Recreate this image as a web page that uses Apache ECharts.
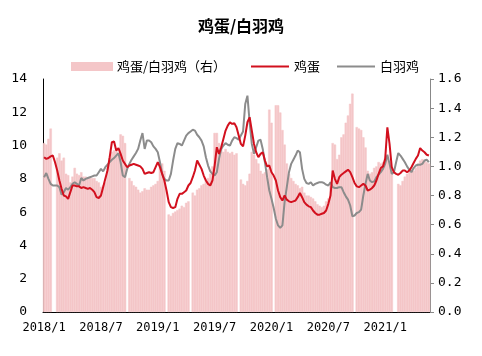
<!DOCTYPE html>
<html><head><meta charset="utf-8">
<script src="https://cdn.jsdelivr.net/npm/echarts@6/dist/echarts.min.js"></script>
<style>html,body{margin:0;padding:0;background:#fff}#c{width:482px;height:356px}</style>
</head><body><div id="c"></div>
<script>
const startDate = '2018-01-05';
const egg = [
9.3,9.2,9.25,9.35,9.4,9.0,8.5,7.9,7.4,7.0,
6.95,6.8,7.2,7.6,7.6,7.55,7.55,7.45,7.5,7.45,
7.4,7.45,7.35,7.2,6.9,6.85,7.0,7.5,8.0,8.5,
9.3,10.2,10.25,9.7,9.85,9.5,9.1,8.9,8.7,8.8,
8.85,8.9,8.85,8.8,8.75,8.6,8.3,8.35,8.4,8.35,
8.4,8.7,9.0,8.7,8.3,7.9,7.3,6.6,6.3,6.25,
6.3,6.8,7.1,7.1,7.2,7.3,7.6,7.75,8.1,8.5,
9.1,8.85,8.6,8.2,7.9,7.7,7.6,7.9,8.8,9.9,
9.5,9.9,10.4,10.9,11.2,11.4,11.3,11.35,11.1,10.6,
10.1,9.95,10.6,11.4,11.7,10.9,10.1,9.6,9.3,9.5,
9.6,9.1,8.75,8.8,8.4,8.2,7.9,7.3,6.9,6.7,
7.0,6.75,6.65,6.6,6.65,6.7,6.9,7.15,6.9,6.6,
6.45,6.35,6.3,6.1,5.95,5.85,5.85,5.9,5.95,6.1,
6.5,7.0,8.5,8.0,7.7,8.1,8.25,8.35,8.45,8.55,
8.4,8.1,7.75,7.55,7.5,7.6,7.7,7.6,7.3,7.35,
7.45,7.6,7.9,8.3,8.65,8.75,9.2,11.1,10.1,8.7,
8.4,8.3,8.25,8.35,8.5,8.5,8.4,8.5,8.7,8.95,
9.2,9.4,9.85,9.7,9.6,9.45,9.4];
const chick = [
8.1,8.35,8.0,7.7,7.6,7.6,7.6,7.5,7.05,7.2,
7.45,7.35,7.5,7.7,7.8,7.7,7.6,8.05,7.9,8.0,
8.05,8.1,8.15,8.2,8.2,8.4,8.6,8.45,8.7,8.85,
9.0,9.15,9.25,9.4,9.55,9.0,8.2,8.1,8.6,8.9,
9.15,9.35,9.55,9.8,10.3,10.75,9.8,10.3,10.3,10.2,
9.95,9.8,9.6,9.0,8.3,8.0,7.9,7.9,8.3,9.1,
9.8,10.15,10.1,10.0,10.3,10.6,10.75,10.85,10.95,10.9,
10.65,10.5,10.3,9.95,9.3,8.8,8.45,8.3,8.2,8.4,
9.2,9.8,10.0,10.15,10.05,10.0,10.3,10.5,10.45,10.35,
10.6,10.85,12.5,13.0,11.4,10.1,9.5,9.9,10.3,10.35,
9.8,9.0,8.1,7.3,6.8,6.25,5.6,5.2,5.05,5.2,
6.6,7.5,8.4,8.9,9.15,9.4,9.7,9.6,8.6,8.0,
7.75,7.7,7.8,7.6,7.7,7.75,7.8,7.8,7.75,7.65,
7.6,7.8,7.5,7.45,7.45,7.5,7.5,7.2,6.95,6.75,
6.4,5.75,5.8,5.95,6.0,6.15,7.0,7.7,8.3,7.9,
7.8,7.85,8.1,8.25,8.4,8.6,8.9,9.45,8.9,8.3,
8.4,9.0,9.55,9.4,9.2,9.0,8.75,8.55,8.4,8.65,
8.8,8.85,8.85,8.9,9.1,9.15,9.0];
const ratio = [
1.16,1.15,1.19,1.26,null,null,1.06,1.09,1.04,1.06,
0.95,0.94,0.89,0.93,0.99,0.95,0.94,0.96,0.93,0.93,
0.92,0.92,0.92,0.92,0.9,0.89,0.86,0.87,0.89,0.99,
1.06,1.1,1.11,1.11,1.08,1.22,1.21,1.16,null,0.92,
0.9,0.87,0.86,0.84,0.82,0.83,0.85,0.84,0.84,0.86,
0.87,0.88,0.9,1.0,1.02,0.97,null,0.67,0.66,0.68,
0.69,0.7,0.71,0.73,0.72,0.75,0.76,null,0.82,0.8,
0.84,0.85,0.87,0.88,0.9,0.92,0.95,1.0,1.23,1.23,
1.16,1.13,1.1,1.12,1.1,1.09,1.1,1.08,1.09,null,
0.91,0.88,0.87,0.9,0.95,1.1,1.08,1.05,1.02,0.97,
0.95,0.96,0.98,1.39,1.3,null,1.42,1.42,1.37,1.25,
1.15,1.02,0.95,0.92,0.9,0.88,0.87,0.85,0.86,0.82,
0.8,0.8,0.79,0.78,0.76,0.74,0.73,0.72,0.73,0.76,
0.78,0.87,1.16,1.15,1.05,1.08,1.2,1.22,1.3,1.35,
1.43,1.5,null,1.27,1.26,1.25,1.2,1.13,0.97,0.95,
0.96,0.99,1.0,1.03,1.02,1.03,1.06,1.06,1.03,1.0,
null,null,0.88,0.87,0.9,0.93,0.95,0.97,0.98,0.97,
0.99,1.02,1.04,1.05,1.04,1.03,1.02];
const leftTicks = {min:0, max:14, interval:2};
const rightTicks = {min:0, max:1.6, interval:0.2};
const tickLabels = ['2018/1','2018/7','2019/1','2019/7','2020/1','2020/7','2021/1'];

// weekly categories
const categories = [];
const t0 = Date.parse(startDate + 'T00:00:00Z');
for (let i = 0; i < egg.length; i++) {
  const d = new Date(t0 + i * 7 * 86400000);
  categories.push(d.getUTCFullYear() + '/' + (d.getUTCMonth() + 1) + '/' + d.getUTCDate());
}

const chart = echarts.init(document.getElementById('c'));
const font = '"Noto Sans CJK SC", sans-serif';
const mono = '"DejaVu Sans Mono", monospace';
const legendText = {fontSize: 13, color: '#000', fontFamily: font};
chart.setOption({
  animation: false,
  title: {text: '鸡蛋/白羽鸡', left: 'center', top: 13,
    textStyle: {fontSize: 16, fontWeight: 'bold', color: '#000', fontFamily: font}},
  legend: [
    {left: 66, top: 55, itemWidth: 40, itemHeight: 7, itemGap: 18, icon: 'rect',
      textStyle: legendText, data: ['鸡蛋/白羽鸡（右）']},
    {left: 246, top: 55, itemWidth: 38, itemHeight: 2, itemGap: 17, icon: 'rect',
      textStyle: legendText, data: ['鸡蛋', '白羽鸡']}
  ],
  grid: {left: 43, right: 52, top: 79, bottom: 44},
  xAxis: {type: 'category', data: categories, boundaryGap: true,
    axisLine: {lineStyle: {color: '#000', width: 1}},
    axisTick: {show: false},
    axisLabel: {interval: 25, margin: 10, fontSize: 12, color: '#000', fontFamily: mono,
      formatter: v => { const p = v.split('/'); return p[0] + '/' + p[1]; }}},
  yAxis: [
    {type: 'value', min: leftTicks.min, max: leftTicks.max, interval: leftTicks.interval,
      splitLine: {show: false},
      axisLine: {show: true, lineStyle: {color: '#000'}},
      axisTick: {show: false},
      axisLabel: {margin: 16, fontSize: 13, color: '#000', fontFamily: mono}},
    {type: 'value', min: rightTicks.min, max: rightTicks.max, interval: rightTicks.interval,
      splitLine: {show: false},
      axisLine: {show: true, lineStyle: {color: '#888'}},
      axisTick: {show: true, length: 4, lineStyle: {color: '#888'}},
      axisLabel: {margin: 8, fontSize: 13, color: '#000', fontFamily: mono,
        formatter: v => v.toFixed(1)}}
  ],
  series: [
    {name: '鸡蛋/白羽鸡（右）', type: 'bar', yAxisIndex: 1, data: ratio,
      barWidth: '110%', itemStyle: {color: '#F4C6C8', borderColor: '#F4C6C8', borderWidth: 0.5}, z: 1},
    {name: '鸡蛋', type: 'line', data: egg, symbol: 'none', showSymbol: false,
      lineStyle: {color: '#D2101E', width: 2}, itemStyle: {color: '#D2101E'}, z: 3},
    {name: '白羽鸡', type: 'line', data: chick, symbol: 'none', showSymbol: false,
      lineStyle: {color: '#8C8C8C', width: 2}, itemStyle: {color: '#8C8C8C'}, z: 2}
  ]
});
</script></body></html>
